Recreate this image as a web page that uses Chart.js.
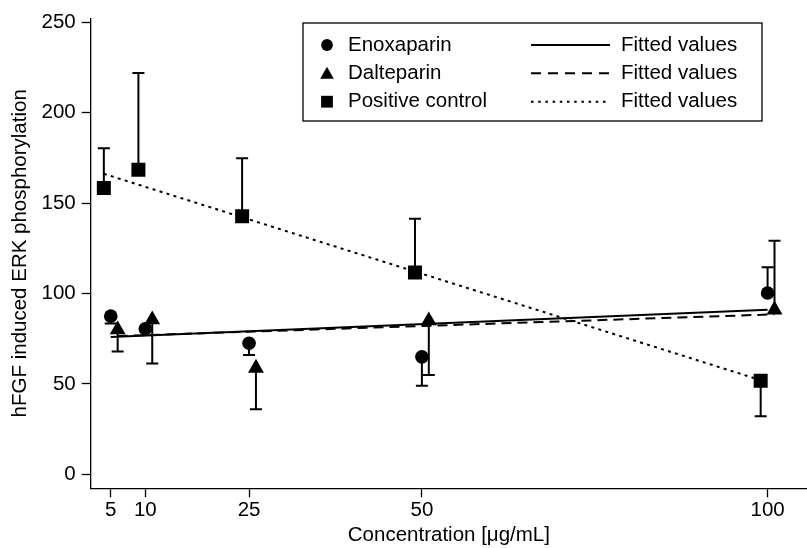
<!DOCTYPE html>
<html>
<head>
<meta charset="utf-8">
<script src="https://cdn.jsdelivr.net/npm/chart.js@4.4.1/dist/chart.umd.min.js"></script>
<style>
  html, body { margin: 0; padding: 0; background: #fff; }
  #wrap { position: relative; width: 807px; height: 548px; }
</style>
</head>
<body>
<div id="wrap"><canvas id="erkChart"></canvas></div>
<script>
// tick positions
const xTicks = [5, 10, 25, 50, 100];
const yTicks = [0, 50, 100, 150, 200, 250];

// Enoxaparin (circles)
const enoxX = [5, 10, 25, 50, 100];
const enoxY = [87.5, 80.5, 72.5, 65, 100.3];
const enoxErr = [83.5, 79, 66, 49, 114.6];   // where the error bar ends

// Dalteparin (triangles), drawn a bit to the right
const daltX = [6, 11, 26, 51, 101];
const daltY = [80, 85.5, 58.8, 85, 91];
const daltErr = [68, 61.3, 36, 55, 129.2];

// Positive control (squares), drawn a bit to the left
const pcX = [4, 9, 24, 49, 99];
const pcY = [158.3, 168.4, 142.8, 111.7, 51.8];
const pcErr = [180.3, 222, 174.8, 141.4, 32.2];

// fitted lines (end points)
const fitEnoxX = [5, 100];
const fitEnoxY = [76, 91];
const fitDaltX = [6, 101];
const fitDaltY = [76.5, 88.5];
const fitPcX = [4, 99];
const fitPcY = [166.2, 52.1];

const FONT = '"Liberation Sans", Arial, Helvetica, sans-serif';
const FSIZE = 20.5;

function toPoints(xs, ys) {
    return xs.map((x, i) => ({ x: x, y: ys[i] }));
}

// vertical error bars with a cap, drawn under the markers
const errorBars = {
    id: 'errorBars',
    beforeDatasetsDraw(chart) {
        const ctx = chart.ctx;
        const yScale = chart.scales.y;
        chart.data.datasets.forEach((ds, i) => {
            if (!ds.errEnd) return;
            const meta = chart.getDatasetMeta(i);
            ctx.save();
            ctx.strokeStyle = '#000';
            ctx.lineWidth = 2;
            meta.data.forEach((pt, j) => {
                const yEnd = yScale.getPixelForValue(ds.errEnd[j]);
                ctx.beginPath();
                ctx.moveTo(pt.x, pt.y);
                ctx.lineTo(pt.x, yEnd);
                ctx.moveTo(pt.x - 6, yEnd);
                ctx.lineTo(pt.x + 6, yEnd);
                ctx.stroke();
            });
            ctx.restore();
        });
    }
};

// two-column legend in a box, like the Stata one
const boxLegend = {
    id: 'boxLegend',
    afterDraw(chart) {
        const ctx = chart.ctx;
        const box = { left: 303, top: 23, right: 762, bottom: 121 };
        const rows = [45, 73.3, 101.7];
        const markers = chart.data.datasets.filter(d => d.errEnd);
        const fits = chart.data.datasets.filter(d => !d.errEnd);

        ctx.save();
        ctx.fillStyle = '#fff';
        ctx.fillRect(box.left, box.top, box.right - box.left, box.bottom - box.top);
        ctx.strokeStyle = '#000';
        ctx.lineWidth = 1.3;
        ctx.strokeRect(box.left, box.top, box.right - box.left, box.bottom - box.top);

        ctx.font = FSIZE + 'px ' + FONT;
        ctx.textBaseline = 'middle';
        ctx.textAlign = 'left';

        markers.forEach((d, i) => {
            const y = rows[i];
            const x = 327;
            ctx.fillStyle = '#000';
            ctx.beginPath();
            if (d.pointStyle === 'circle') {
                ctx.arc(x, y, 5.9, 0, Math.PI * 2);
            } else if (d.pointStyle === 'triangle') {
                ctx.moveTo(x, y - 6.5);
                ctx.lineTo(x + 6.8, y + 5.5);
                ctx.lineTo(x - 6.8, y + 5.5);
                ctx.closePath();
            } else {
                ctx.rect(x - 5.9, y - 5.9, 11.8, 11.8);
            }
            ctx.fill();
            ctx.fillText(d.label, 348, y);
        });

        fits.forEach((d, i) => {
            const y = rows[i];
            ctx.beginPath();
            ctx.setLineDash(d.legendDash || []);
            ctx.lineWidth = 2;
            ctx.moveTo(531, y);
            ctx.lineTo(610, y);
            ctx.stroke();
            ctx.setLineDash([]);
            ctx.fillText(d.label, 621, y);
        });
        ctx.restore();
    }
};

new Chart(document.getElementById('erkChart'), {
    type: 'scatter',
    data: {
        datasets: [
            {
                label: 'Enoxaparin',
                data: toPoints(enoxX, enoxY),
                errEnd: enoxErr,
                pointStyle: 'circle',
                pointRadius: 6.8,
                backgroundColor: '#000',
                borderWidth: 0
            },
            {
                label: 'Dalteparin',
                data: toPoints(daltX, daltY),
                errEnd: daltErr,
                pointStyle: 'triangle',
                pointRadius: 9.2,
                backgroundColor: '#000',
                borderWidth: 0
            },
            {
                label: 'Positive control',
                data: toPoints(pcX, pcY),
                errEnd: pcErr,
                pointStyle: 'rect',
                pointRadius: 9.9,
                backgroundColor: '#000',
                borderWidth: 0
            },
            {
                label: 'Fitted values',
                data: toPoints(fitEnoxX, fitEnoxY),
                showLine: true,
                pointRadius: 0,
                borderColor: '#000',
                borderWidth: 2,
                legendDash: []
            },
            {
                label: 'Fitted values',
                data: toPoints(fitDaltX, fitDaltY),
                showLine: true,
                pointRadius: 0,
                borderColor: '#000',
                borderWidth: 2,
                borderDash: [10, 6],
                legendDash: [10, 7]
            },
            {
                label: 'Fitted values',
                data: toPoints(fitPcX, fitPcY),
                showLine: true,
                pointRadius: 0,
                borderColor: '#000',
                borderWidth: 2,
                borderDash: [3, 4.3],
                legendDash: [2.5, 4.7]
            }
        ]
    },
    options: {
        responsive: true,
        maintainAspectRatio: false,
        animation: false,
        layout: {
            autoPadding: false,
            padding: { top: 15, right: 0, bottom: 0, left: 0 }
        },
        plugins: {
            legend: { display: false },
            tooltip: { enabled: false }
        },
        scales: {
            x: {
                type: 'linear',
                min: 2.1,
                max: 105.7,
                afterBuildTicks: function (scale) {
                    scale.ticks = xTicks.map(v => ({ value: v }));
                },
                afterFit: function (scale) {
                    scale.height = 59.7;
                    scale.paddingLeft = 0;
                    scale.paddingRight = 0;
                },
                ticks: {
                    autoSkip: false,
                    maxRotation: 0,
                    padding: 1,
                    color: '#000',
                    font: { family: FONT, size: FSIZE }
                },
                grid: {
                    drawOnChartArea: false,
                    tickLength: 9,
                    tickColor: '#000',
                    tickWidth: 1.3
                },
                border: { color: '#000', width: 1.3 },
                title: {
                    display: true,
                    text: 'Concentration [μg/mL]',
                    color: '#000',
                    padding: { top: 0, bottom: 0 },
                    font: { family: FONT, size: FSIZE, lineHeight: 1.2 }
                }
            },
            y: {
                type: 'linear',
                min: -7.7,
                max: 252.2,
                afterBuildTicks: function (scale) {
                    scale.ticks = yTicks.map(v => ({ value: v }));
                },
                afterFit: function (scale) { scale.width = 90.7; },
                ticks: {
                    autoSkip: false,
                    padding: 6,
                    color: '#000',
                    font: { family: FONT, size: FSIZE }
                },
                grid: {
                    drawOnChartArea: false,
                    tickLength: 9,
                    tickColor: '#000',
                    tickWidth: 1.3
                },
                border: { color: '#000', width: 1.3 },
                title: {
                    display: true,
                    text: 'hFGF induced ERK phosphorylation',
                    color: '#000',
                    padding: { top: 8, bottom: 0 },
                    font: { family: FONT, size: FSIZE, lineHeight: 1.2 }
                }
            }
        }
    },
    plugins: [errorBars, boxLegend]
});
</script>
</body>
</html>
